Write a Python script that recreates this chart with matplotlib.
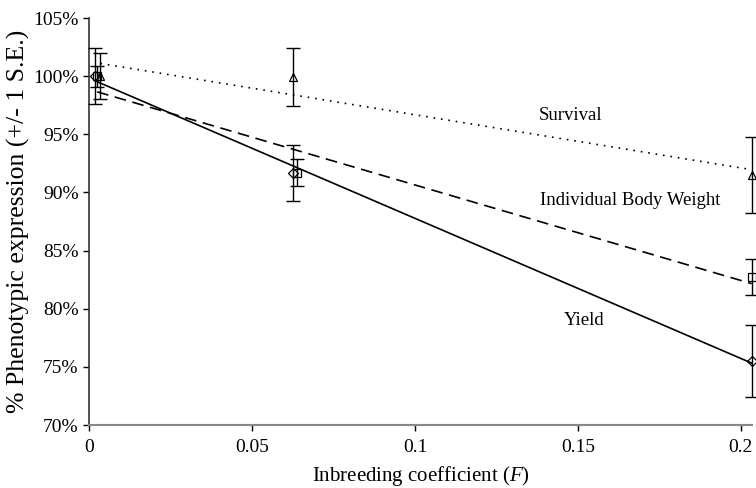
import numpy as np
import matplotlib
matplotlib.use("Agg")
import matplotlib.pyplot as plt
from matplotlib.ticker import FuncFormatter

plt.rcParams['font.family'] = ['Liberation Serif', 'DejaVu Serif']
plt.rcParams['mathtext.fontset'] = 'custom'
plt.rcParams['mathtext.rm'] = 'Liberation Serif'
plt.rcParams['mathtext.it'] = 'Liberation Serif:italic'

# Data (inbreeding coefficient F, % phenotypic expression, +/- 1 S.E.)
yield_F = [0.0019, 0.0627, 0.2033]
yield_pct = [100.0, 91.7, 75.5]
yield_se = [2.4, 2.4, 3.1]

bw_F = [0.0025, 0.0637, 0.2033]
bw_pct = [100.0, 91.7, 82.75]
bw_se = [0.9, 1.15, 1.55]

surv_F = [0.0035, 0.0627, 0.2033]
surv_pct = [100.0, 99.95, 91.5]
surv_se = [2.0, 2.5, 3.3]

x_ticks = [0, 0.05, 0.1, 0.15, 0.2]
y_ticks = [70, 75, 80, 85, 90, 95, 100, 105]

fig = plt.figure(figsize=(7.56, 4.88), dpi=100)
ax = fig.add_axes([0.1177, 0.129, 0.877, 0.834])

series = [
    (yield_F, yield_pct, yield_se, 'D', '-', 5),
    (bw_F, bw_pct, bw_se, 's', (0, (7, 4)), 5.5),
    (surv_F, surv_pct, surv_se, '^', (0, (1, 3.5)), 6),
]
for F, p, se, mk, ls, ms in series:
    F = np.array(F); p = np.array(p)
    ax.errorbar(F, p, yerr=se, fmt='none', ecolor='black', elinewidth=1.0,
                capsize=5, capthick=1.0, clip_on=False, zorder=3)
    ax.plot(F, p, linestyle='none', marker=mk, markersize=ms, markerfacecolor='none',
            markeredgecolor='black', markeredgewidth=0.9, clip_on=False, zorder=4)
    slope, inter = np.polyfit(F, p, 1)
    xs = np.array([F.min(), F.max()])
    ax.plot(xs, inter + slope * xs, color='black', linestyle=ls, linewidth=1.2,
            clip_on=False, zorder=2)

ax.text(0.1478, 96.65, 'Survival', ha='center', va='center', fontsize=13.5)
ax.text(0.166, 89.35, 'Individual Body Weight', ha='center', va='center', fontsize=13.5)
ax.text(0.1518, 79.03, 'Yield', ha='center', va='center', fontsize=13.5)

ax.set_xlim(0, 0.2034)
ax.set_ylim(70, 105)
ax.set_xticks(x_ticks)
ax.set_xticklabels(['0', '0.05', '0.1', '0.15', '0.2'])
ax.set_yticks(y_ticks)
ax.yaxis.set_major_formatter(FuncFormatter(lambda v, pos: f"{int(v)}%"))
ax.tick_params(axis='both', labelsize=14, direction='out', length=4, width=1, colors='black')
ax.tick_params(axis='x', pad=6)

for s in ['top', 'right']:
    ax.spines[s].set_visible(False)
ax.spines['left'].set_color('#333333')
ax.spines['bottom'].set_color('#888888')
ax.spines['left'].set_linewidth(1.2)
ax.spines['bottom'].set_linewidth(1.5)

ax.set_xlabel('Inbreeding coefficient ($\\mathit{F}$)', fontsize=15, labelpad=6)
ax.set_ylabel('% Phenotypic expression (+/- 1 S.E.)', fontsize=18.5, labelpad=2)

fig.savefig('out.png', dpi=100)
